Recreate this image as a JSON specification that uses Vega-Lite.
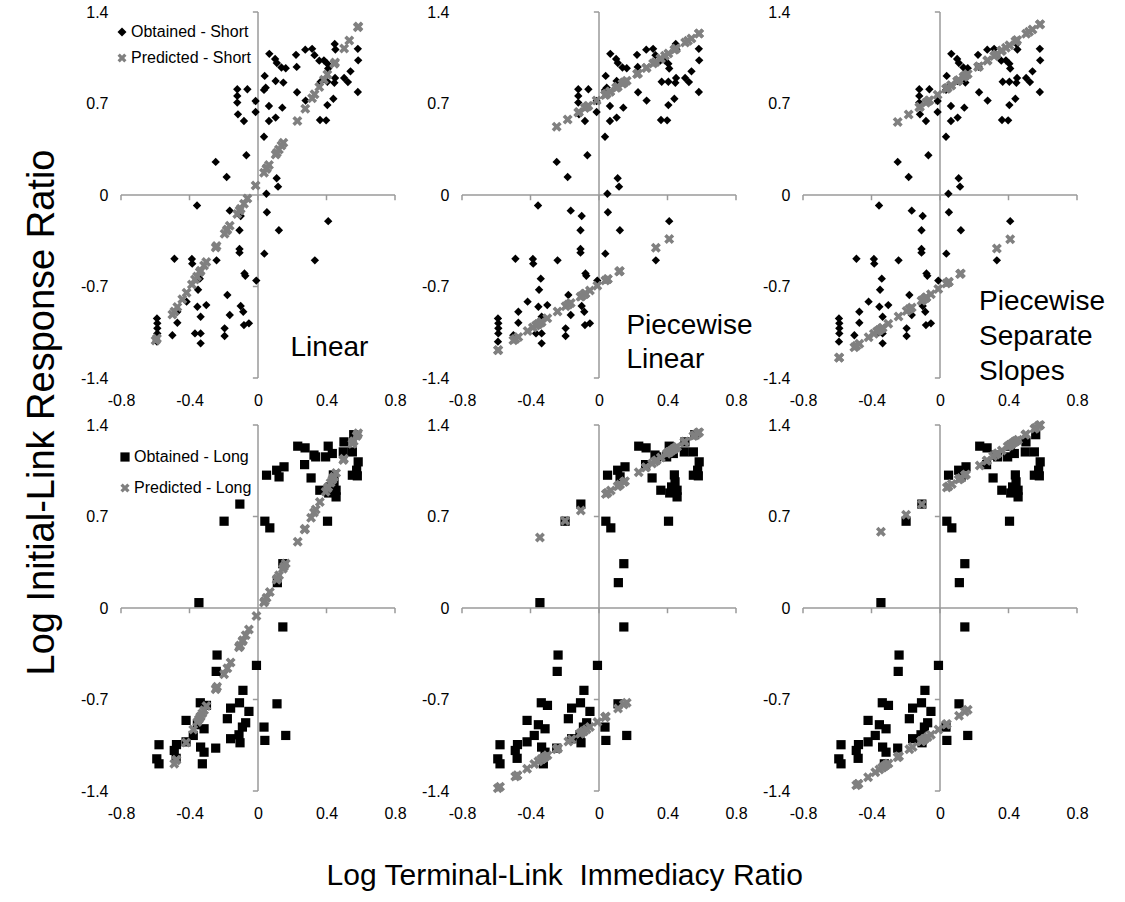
{
  "$schema": "https://vega.github.io/schema/vega-lite/v6.json",
  "background": "white",
  "padding": {"left": 24, "top": 4, "right": 5, "bottom": 5},
  "title": {"text": "Log Terminal-Link\u00a0 Immediacy Ratio", "orient": "bottom", "anchor": "middle", "fontSize": 30, "fontWeight": "normal", "font": "Liberation Sans", "color": "#000", "offset": 40},
  "config": {
    "font": "Liberation Sans",
    "view": {"stroke": null},
    "axis": {"domain": false, "ticks": false, "grid": false, "labelFontSize": 16, "labelColor": "#000", "labelFont": "Liberation Sans", "labelFlush": false, "labelOverlap": false, "labelBound": false},
    "axisX": {"labelPadding": 14},
    "axisY": {"labelPadding": 13},
    "point": {"opacity": 1}
  },
  "datasets": {
    "axes": [
      {"x": 0, "x2": 0, "y": -1.4, "y2": 1.4},
      {"x": -0.8, "x2": 0.8, "y": 0, "y2": 0},
      {"x": -0.8, "x2": -0.8, "y": 0, "y2": -0.04},
      {"x": -0.4, "x2": -0.4, "y": 0, "y2": -0.04},
      {"x": 0, "x2": 0, "y": 0, "y2": -0.04},
      {"x": 0.4, "x2": 0.4, "y": 0, "y2": -0.04},
      {"x": 0.8, "x2": 0.8, "y": 0, "y2": -0.04},
      {"x": 0, "x2": -0.03, "y": 1.4, "y2": 1.4},
      {"x": 0, "x2": -0.03, "y": 0.7, "y2": 0.7},
      {"x": 0, "x2": -0.03, "y": -0.7, "y2": -0.7},
      {"x": 0, "x2": -0.03, "y": -1.4, "y2": -1.4}
    ],
    "obtS": [
      {"x":0.066,"y":1.08},{"x":0.100,"y":1.04},{"x":0.110,"y":1.01},{"x":0.137,"y":0.975},{"x":0.162,"y":0.970},{"x":0.226,"y":0.980},{"x":0.222,"y":1.072},{"x":0.276,"y":1.112},{"x":0.316,"y":1.118},{"x":0.330,"y":1.070},{"x":0.358,"y":1.028},{"x":0.385,"y":1.030},{"x":0.405,"y":1.005},{"x":0.410,"y":0.968},{"x":0.448,"y":1.155},{"x":0.452,"y":1.113},{"x":0.583,"y":1.118},{"x":0.585,"y":1.030},{"x":0.540,"y":0.946},{"x":0.503,"y":0.895},{"x":0.525,"y":0.864},{"x":0.583,"y":0.788},{"x":0.446,"y":0.858},{"x":0.450,"y":0.895},{"x":0.366,"y":0.866},{"x":0.405,"y":0.866},{"x":0.440,"y":0.736},{"x":0.405,"y":0.688},{"x":0.362,"y":0.574},{"x":0.398,"y":0.571},{"x":0.228,"y":0.786},{"x":0.278,"y":0.722},{"x":0.142,"y":0.668},{"x":0.064,"y":0.681},{"x":0.064,"y":0.566},{"x":0.103,"y":0.592},{"x":0.039,"y":0.911},{"x":0.045,"y":0.821},{"x":0.035,"y":0.804},{"x":0.103,"y":0.872},{"x":0.148,"y":0.860},{"x":-0.014,"y":0.719},{"x":-0.014,"y":0.635},{"x":-0.062,"y":0.809},{"x":-0.121,"y":0.809},{"x":-0.121,"y":0.758},{"x":-0.121,"y":0.707},{"x":-0.117,"y":0.617},{"x":-0.082,"y":0.566},{"x":0.035,"y":0.446},{"x":-0.068,"y":0.304},{"x":-0.247,"y":0.253},{"x":-0.183,"y":0.138},{"x":0.109,"y":0.128},{"x":0.117,"y":0.064},{"x":0.049,"y":0.010},
      {"x":-0.356,"y":-0.080},{"x":-0.165,"y":-0.120},{"x":-0.101,"y":-0.161},{"x":0.052,"y":-0.132},{"x":0.122,"y":-0.270},{"x":0.410,"y":-0.200},{"x":-0.108,"y":-0.270},{"x":-0.108,"y":-0.413},{"x":-0.108,"y":-0.441},{"x":0.037,"y":-0.449},{"x":0.332,"y":-0.500},{"x":-0.242,"y":-0.500},{"x":-0.386,"y":-0.490},{"x":-0.384,"y":-0.525},{"x":-0.488,"y":-0.488},{"x":-0.079,"y":-0.600},{"x":-0.074,"y":-0.618},{"x":-0.010,"y":-0.655},{"x":-0.340,"y":-0.640},{"x":-0.350,"y":-0.725},{"x":-0.417,"y":-0.816},{"x":-0.471,"y":-0.893},{"x":-0.471,"y":-0.977},{"x":-0.354,"y":-0.855},{"x":-0.302,"y":-0.842},{"x":-0.335,"y":-0.931},{"x":-0.179,"y":-0.765},{"x":-0.165,"y":-0.918},{"x":-0.101,"y":-0.849},{"x":-0.086,"y":-0.893},{"x":-0.082,"y":-0.995},{"x":-0.053,"y":-0.982},{"x":-0.195,"y":-1.020},{"x":-0.195,"y":-1.079},{"x":-0.335,"y":-1.059},{"x":-0.335,"y":-1.135},{"x":-0.368,"y":-1.059},{"x":-0.590,"y":-0.944},{"x":-0.588,"y":-0.982},{"x":-0.588,"y":-1.020},{"x":-0.588,"y":-1.059},{"x":-0.590,"y":-1.122},{"x":-0.500,"y":-1.073}
    ],
    "p1": [
      {"x":-0.598,"y":-1.114},{"x":-0.590,"y":-1.098},{"x":-0.500,"y":-0.915},{"x":-0.488,"y":-0.891},{"x":-0.471,"y":-0.856},{"x":-0.442,"y":-0.797},{"x":-0.417,"y":-0.747},{"x":-0.386,"y":-0.684},{"x":-0.368,"y":-0.647},{"x":-0.356,"y":-0.623},{"x":-0.340,"y":-0.590},{"x":-0.335,"y":-0.580},{"x":-0.315,"y":-0.539},{"x":-0.302,"y":-0.513},{"x":-0.247,"y":-0.401},{"x":-0.242,"y":-0.391},{"x":-0.195,"y":-0.296},{"x":-0.183,"y":-0.271},{"x":-0.179,"y":-0.263},{"x":-0.165,"y":-0.235},{"x":-0.121,"y":-0.146},{"x":-0.108,"y":-0.119},{"x":-0.101,"y":-0.105},{"x":-0.082,"y":-0.066},{"x":-0.062,"y":-0.026},{"x":-0.014,"y":0.072},{"x":0.035,"y":0.171},{"x":0.049,"y":0.199},{"x":0.052,"y":0.206},{"x":0.064,"y":0.230},{"x":0.103,"y":0.309},{"x":0.110,"y":0.323},{"x":0.122,"y":0.348},{"x":0.137,"y":0.378},{"x":0.148,"y":0.400},{"x":0.230,"y":0.567},{"x":0.276,"y":0.660},{"x":0.316,"y":0.741},{"x":0.330,"y":0.770},{"x":0.358,"y":0.827},{"x":0.385,"y":0.882},{"x":0.405,"y":0.922},{"x":0.446,"y":1.005},{"x":0.450,"y":1.014},{"x":0.503,"y":1.121},{"x":0.533,"y":1.182},{"x":0.583,"y":1.283},{"x":0.586,"y":1.290}
    ],
    "p2": [
      {"x":-0.247,"y":0.523},{"x":-0.183,"y":0.578},{"x":-0.121,"y":0.631},{"x":-0.117,"y":0.635},{"x":-0.082,"y":0.665},{"x":-0.068,"y":0.677},{"x":-0.062,"y":0.682},{"x":-0.014,"y":0.723},{"x":0.035,"y":0.765},{"x":0.039,"y":0.768},{"x":0.045,"y":0.774},{"x":0.064,"y":0.790},{"x":0.066,"y":0.792},{"x":0.100,"y":0.821},{"x":0.103,"y":0.823},{"x":0.110,"y":0.829},{"x":0.137,"y":0.852},{"x":0.142,"y":0.857},{"x":0.148,"y":0.862},{"x":0.162,"y":0.874},{"x":0.222,"y":0.925},{"x":0.228,"y":0.930},{"x":0.276,"y":0.972},{"x":0.278,"y":0.973},{"x":0.316,"y":1.006},{"x":0.330,"y":1.018},{"x":0.358,"y":1.042},{"x":0.362,"y":1.045},{"x":0.385,"y":1.065},{"x":0.405,"y":1.082},{"x":0.440,"y":1.112},{"x":0.446,"y":1.117},{"x":0.450,"y":1.121},{"x":0.503,"y":1.166},{"x":0.520,"y":1.181},{"x":0.540,"y":1.198},{"x":0.583,"y":1.235},{"x":0.585,"y":1.236},
      {"x":-0.590,"y":-1.188},{"x":-0.588,"y":-1.186},{"x":-0.500,"y":-1.112},{"x":-0.488,"y":-1.101},{"x":-0.471,"y":-1.087},{"x":-0.417,"y":-1.041},{"x":-0.386,"y":-1.014},{"x":-0.368,"y":-0.999},{"x":-0.356,"y":-0.989},{"x":-0.354,"y":-0.987},{"x":-0.340,"y":-0.975},{"x":-0.335,"y":-0.971},{"x":-0.302,"y":-0.943},{"x":-0.242,"y":-0.892},{"x":-0.195,"y":-0.852},{"x":-0.179,"y":-0.838},{"x":-0.165,"y":-0.826},{"x":-0.108,"y":-0.778},{"x":-0.101,"y":-0.772},{"x":-0.086,"y":-0.759},{"x":-0.082,"y":-0.756},{"x":-0.079,"y":-0.753},{"x":-0.053,"y":-0.731},{"x":-0.010,"y":-0.695},{"x":0.037,"y":-0.655},{"x":0.049,"y":-0.644},{"x":0.052,"y":-0.642},{"x":0.117,"y":-0.586},{"x":0.122,"y":-0.582},{"x":0.332,"y":-0.403},{"x":0.410,"y":-0.337}
    ],
    "p3": [
      {"x":-0.247,"y":0.558},{"x":-0.183,"y":0.615},{"x":-0.121,"y":0.671},{"x":-0.117,"y":0.675},{"x":-0.082,"y":0.706},{"x":-0.068,"y":0.719},{"x":-0.062,"y":0.724},{"x":-0.014,"y":0.767},{"x":0.035,"y":0.812},{"x":0.039,"y":0.815},{"x":0.045,"y":0.821},{"x":0.064,"y":0.838},{"x":0.066,"y":0.839},{"x":0.100,"y":0.870},{"x":0.103,"y":0.873},{"x":0.110,"y":0.879},{"x":0.137,"y":0.903},{"x":0.142,"y":0.908},{"x":0.148,"y":0.913},{"x":0.162,"y":0.926},{"x":0.222,"y":0.980},{"x":0.228,"y":0.985},{"x":0.276,"y":1.028},{"x":0.278,"y":1.030},{"x":0.316,"y":1.064},{"x":0.330,"y":1.077},{"x":0.358,"y":1.102},{"x":0.362,"y":1.106},{"x":0.385,"y":1.127},{"x":0.405,"y":1.145},{"x":0.440,"y":1.176},{"x":0.446,"y":1.181},{"x":0.450,"y":1.185},{"x":0.503,"y":1.233},{"x":0.520,"y":1.248},{"x":0.540,"y":1.266},{"x":0.583,"y":1.305},{"x":0.585,"y":1.307},
      {"x":-0.590,"y":-1.246},{"x":-0.588,"y":-1.244},{"x":-0.500,"y":-1.165},{"x":-0.488,"y":-1.154},{"x":-0.471,"y":-1.138},{"x":-0.417,"y":-1.089},{"x":-0.386,"y":-1.061},{"x":-0.368,"y":-1.045},{"x":-0.356,"y":-1.034},{"x":-0.354,"y":-1.032},{"x":-0.340,"y":-1.019},{"x":-0.335,"y":-1.015},{"x":-0.302,"y":-0.985},{"x":-0.242,"y":-0.930},{"x":-0.195,"y":-0.888},{"x":-0.179,"y":-0.873},{"x":-0.165,"y":-0.861},{"x":-0.108,"y":-0.809},{"x":-0.101,"y":-0.803},{"x":-0.086,"y":-0.789},{"x":-0.082,"y":-0.785},{"x":-0.079,"y":-0.783},{"x":-0.053,"y":-0.759},{"x":-0.010,"y":-0.720},{"x":0.037,"y":-0.677},{"x":0.049,"y":-0.667},{"x":0.052,"y":-0.664},{"x":0.117,"y":-0.605},{"x":0.122,"y":-0.600},{"x":0.332,"y":-0.410},{"x":0.410,"y":-0.339}
    ],
    "obtL": [
      {"x":0.232,"y":1.238},{"x":0.275,"y":1.225},{"x":0.327,"y":1.170},{"x":0.337,"y":1.156},{"x":0.272,"y":1.097},{"x":0.310,"y":0.995},{"x":0.410,"y":1.238},{"x":0.395,"y":1.156},{"x":0.434,"y":1.182},{"x":0.502,"y":1.271},{"x":0.498,"y":1.194},{"x":0.551,"y":1.194},{"x":0.559,"y":1.326},{"x":0.585,"y":1.118},{"x":0.576,"y":1.054},{"x":0.551,"y":1.016},{"x":0.580,"y":1.011},{"x":0.440,"y":1.018},{"x":0.444,"y":0.965},{"x":0.456,"y":0.901},{"x":0.456,"y":0.850},{"x":0.413,"y":0.880},{"x":0.424,"y":0.926},{"x":0.361,"y":0.901},{"x":0.406,"y":0.664},{"x":0.050,"y":1.016},{"x":0.109,"y":1.054},{"x":0.123,"y":1.003},{"x":0.152,"y":1.080},{"x":-0.106,"y":0.795},{"x":-0.198,"y":0.664},{"x":0.040,"y":0.664},{"x":0.069,"y":0.613},{"x":0.145,"y":0.339},{"x":0.113,"y":0.194},{"x":-0.345,"y":0.041},
      {"x":0.145,"y":-0.145},{"x":-0.009,"y":-0.439},{"x":-0.239,"y":-0.360},{"x":-0.244,"y":-0.485},{"x":-0.088,"y":-0.630},{"x":-0.337,"y":-0.725},{"x":-0.301,"y":-0.745},{"x":-0.160,"y":-0.766},{"x":-0.108,"y":-0.725},{"x":-0.053,"y":-0.791},{"x":-0.420,"y":-0.860},{"x":-0.354,"y":-0.893},{"x":-0.315,"y":-0.924},{"x":-0.179,"y":-0.847},{"x":-0.072,"y":-0.878},{"x":-0.091,"y":-0.911},{"x":-0.378,"y":-0.975},{"x":-0.420,"y":-1.024},{"x":0.035,"y":-0.911},{"x":0.040,"y":-1.013},{"x":0.162,"y":-0.975},{"x":0.111,"y":-0.733},{"x":-0.160,"y":-1.000},{"x":-0.105,"y":-1.031},{"x":-0.111,"y":-0.970},{"x":-0.247,"y":-1.072},{"x":-0.335,"y":-1.064},{"x":-0.315,"y":-1.103},{"x":-0.325,"y":-1.192},{"x":-0.476,"y":-1.045},{"x":-0.489,"y":-1.090},{"x":-0.478,"y":-1.150},{"x":-0.578,"y":-1.046},{"x":-0.591,"y":-1.154},{"x":-0.578,"y":-1.192}
    ],
    "p4": [
      {"x":-0.489,"y":-1.191},{"x":-0.478,"y":-1.165},{"x":-0.476,"y":-1.161},{"x":-0.420,"y":-1.029},{"x":-0.378,"y":-0.930},{"x":-0.354,"y":-0.873},{"x":-0.345,"y":-0.852},{"x":-0.337,"y":-0.833},{"x":-0.335,"y":-0.829},{"x":-0.325,"y":-0.805},{"x":-0.315,"y":-0.782},{"x":-0.301,"y":-0.749},{"x":-0.247,"y":-0.621},{"x":-0.244,"y":-0.614},{"x":-0.239,"y":-0.603},{"x":-0.198,"y":-0.506},{"x":-0.179,"y":-0.461},{"x":-0.160,"y":-0.417},{"x":-0.111,"y":-0.301},{"x":-0.108,"y":-0.294},{"x":-0.106,"y":-0.290},{"x":-0.105,"y":-0.287},{"x":-0.091,"y":-0.254},{"x":-0.088,"y":-0.247},{"x":-0.072,"y":-0.209},{"x":-0.053,"y":-0.165},{"x":-0.009,"y":-0.061},{"x":0.035,"y":0.042},{"x":0.040,"y":0.054},{"x":0.050,"y":0.078},{"x":0.069,"y":0.122},{"x":0.109,"y":0.217},{"x":0.111,"y":0.221},{"x":0.113,"y":0.226},{"x":0.123,"y":0.250},{"x":0.145,"y":0.301},{"x":0.152,"y":0.318},{"x":0.162,"y":0.341},{"x":0.232,"y":0.506},{"x":0.272,"y":0.600},{"x":0.275,"y":0.607},{"x":0.310,"y":0.690},{"x":0.327,"y":0.730},{"x":0.337,"y":0.753},{"x":0.361,"y":0.810},{"x":0.395,"y":0.890},{"x":0.406,"y":0.916},{"x":0.410,"y":0.925},{"x":0.424,"y":0.958},{"x":0.434,"y":0.982},{"x":0.440,"y":0.996},{"x":0.444,"y":1.005},{"x":0.456,"y":1.033},{"x":0.498,"y":1.132},{"x":0.502,"y":1.142},{"x":0.551,"y":1.257},{"x":0.559,"y":1.276},{"x":0.576,"y":1.316},{"x":0.580,"y":1.325},{"x":0.585,"y":1.337}
    ],
    "p5": [
      {"x":-0.345,"y":0.539},{"x":-0.198,"y":0.667},{"x":-0.106,"y":0.746},{"x":0.040,"y":0.873},{"x":0.050,"y":0.881},{"x":0.069,"y":0.898},{"x":0.109,"y":0.932},{"x":0.113,"y":0.936},{"x":0.123,"y":0.945},{"x":0.145,"y":0.964},{"x":0.152,"y":0.970},{"x":0.232,"y":1.039},{"x":0.272,"y":1.074},{"x":0.275,"y":1.076},{"x":0.310,"y":1.106},{"x":0.327,"y":1.121},{"x":0.337,"y":1.130},{"x":0.361,"y":1.151},{"x":0.395,"y":1.180},{"x":0.406,"y":1.190},{"x":0.410,"y":1.193},{"x":0.413,"y":1.196},{"x":0.424,"y":1.205},{"x":0.434,"y":1.214},{"x":0.440,"y":1.219},{"x":0.444,"y":1.223},{"x":0.456,"y":1.233},{"x":0.498,"y":1.269},{"x":0.502,"y":1.273},{"x":0.551,"y":1.315},{"x":0.559,"y":1.322},{"x":0.576,"y":1.337},{"x":0.580,"y":1.340},{"x":0.585,"y":1.345},
      {"x":-0.591,"y":-1.379},{"x":-0.578,"y":-1.368},{"x":-0.489,"y":-1.290},{"x":-0.478,"y":-1.281},{"x":-0.476,"y":-1.279},{"x":-0.420,"y":-1.230},{"x":-0.378,"y":-1.194},{"x":-0.354,"y":-1.173},{"x":-0.337,"y":-1.158},{"x":-0.335,"y":-1.156},{"x":-0.325,"y":-1.148},{"x":-0.315,"y":-1.139},{"x":-0.301,"y":-1.127},{"x":-0.247,"y":-1.080},{"x":-0.244,"y":-1.077},{"x":-0.239,"y":-1.073},{"x":-0.179,"y":-1.021},{"x":-0.160,"y":-1.004},{"x":-0.111,"y":-0.962},{"x":-0.108,"y":-0.959},{"x":-0.105,"y":-0.956},{"x":-0.091,"y":-0.944},{"x":-0.088,"y":-0.942},{"x":-0.072,"y":-0.928},{"x":-0.053,"y":-0.911},{"x":-0.009,"y":-0.873},{"x":0.035,"y":-0.835},{"x":0.040,"y":-0.830},{"x":0.111,"y":-0.768},{"x":0.145,"y":-0.739},{"x":0.162,"y":-0.724}
    ],
    "p6": [
      {"x":-0.345,"y":0.583},{"x":-0.198,"y":0.713},{"x":-0.106,"y":0.794},{"x":0.040,"y":0.922},{"x":0.050,"y":0.931},{"x":0.069,"y":0.948},{"x":0.109,"y":0.983},{"x":0.113,"y":0.986},{"x":0.123,"y":0.995},{"x":0.145,"y":1.015},{"x":0.152,"y":1.021},{"x":0.232,"y":1.091},{"x":0.272,"y":1.126},{"x":0.275,"y":1.129},{"x":0.310,"y":1.160},{"x":0.327,"y":1.175},{"x":0.337,"y":1.184},{"x":0.361,"y":1.205},{"x":0.395,"y":1.235},{"x":0.406,"y":1.244},{"x":0.410,"y":1.248},{"x":0.413,"y":1.250},{"x":0.424,"y":1.260},{"x":0.434,"y":1.269},{"x":0.440,"y":1.274},{"x":0.444,"y":1.278},{"x":0.456,"y":1.288},{"x":0.498,"y":1.325},{"x":0.502,"y":1.329},{"x":0.551,"y":1.372},{"x":0.559,"y":1.379},{"x":0.576,"y":1.394},{"x":0.580,"y":1.397},{"x":0.585,"y":1.400},
      {"x":-0.489,"y":-1.356},{"x":-0.478,"y":-1.346},{"x":-0.476,"y":-1.344},{"x":-0.420,"y":-1.295},{"x":-0.378,"y":-1.257},{"x":-0.354,"y":-1.236},{"x":-0.337,"y":-1.221},{"x":-0.335,"y":-1.219},{"x":-0.325,"y":-1.210},{"x":-0.315,"y":-1.201},{"x":-0.301,"y":-1.189},{"x":-0.247,"y":-1.141},{"x":-0.244,"y":-1.138},{"x":-0.239,"y":-1.134},{"x":-0.179,"y":-1.081},{"x":-0.160,"y":-1.064},{"x":-0.111,"y":-1.020},{"x":-0.108,"y":-1.018},{"x":-0.105,"y":-1.015},{"x":-0.091,"y":-1.003},{"x":-0.088,"y":-1.000},{"x":-0.072,"y":-0.986},{"x":-0.053,"y":-0.969},{"x":-0.009,"y":-0.930},{"x":0.035,"y":-0.891},{"x":0.040,"y":-0.887},{"x":0.111,"y":-0.824},{"x":0.145,"y":-0.793},{"x":0.162,"y":-0.778}
    ]
  },
  "resolve": {"scale": {"color": "independent", "shape": "independent"}, "legend": {"color": "independent", "shape": "independent"}},
  "vconcat": [
    {
      "title": {"text": "Log Initial-Link Response Ratio", "orient": "left", "anchor": "middle", "fontSize": 38, "fontWeight": "normal", "font": "Liberation Sans", "color": "#000", "offset": 18},
      "columns": 3,
      "spacing": {"row": 47, "column": 67},
      "bounds": "flush",
      "resolve": {"scale": {"color": "independent", "shape": "independent"}, "legend": {"color": "independent", "shape": "independent"}},
      "concat": [
        {
          "width": 274, "height": 366,
          "layer": [
            {"data": {"name": "axes"}, "mark": {"type": "rule", "color": "#9a9a9a", "strokeWidth": 1.5},
             "encoding": {
               "x": {"field": "x", "type": "quantitative", "title": null, "scale": {"domain": [-0.8, 0.8], "nice": false, "zero": false}, "axis": {"values": [-0.8, -0.4, 0, 0.4, 0.8], "labelExpr": "datum.value < 0 ? '-' + format(-datum.value, '.1~f') : format(datum.value, '.1~f')"}},
               "x2": {"field": "x2"},
               "y": {"field": "y", "type": "quantitative", "title": null, "scale": {"domain": [-1.4, 1.4], "nice": false, "zero": false}, "axis": {"values": [-1.4, -0.7, 0, 0.7, 1.4], "labelExpr": "datum.value < 0 ? '-' + format(-datum.value, '.1~f') : format(datum.value, '.1~f')"}},
               "y2": {"field": "y2"}}},
            {"data": {"name": "obtS"}, "mark": {"type": "point", "filled": true, "size": 70},
             "encoding": {
               "x": {"field": "x", "type": "quantitative", "title": null},
               "y": {"field": "y", "type": "quantitative", "title": null},
               "color": {"datum": "Obtained - Short", "scale": {"domain": ["Obtained - Short", "Predicted - Short"], "range": ["#000000", "#808080"]}, "legend": {"orient": "none", "legendX": -7, "legendY": 12, "title": null, "labelFontSize": 16, "labelFont": "Liberation Sans", "labelColor": "#000", "symbolSize": 80, "rowPadding": 10, "padding": 0, "labelOffset": 1, "symbolStrokeWidth": 0}},
               "shape": {"datum": "Obtained - Short", "scale": {"domain": ["Obtained - Short", "Predicted - Short"], "range": ["diamond", "M-1,-0.5L-0.5,-1L0,-0.5L0.5,-1L1,-0.5L0.5,0L1,0.5L0.5,1L0,0.5L-0.5,1L-1,0.5L-0.5,0Z"]}, "legend": {"orient": "none", "legendX": -7, "legendY": 12, "title": null, "labelFontSize": 16, "labelFont": "Liberation Sans", "labelColor": "#000", "symbolSize": 80, "rowPadding": 10, "padding": 0, "labelOffset": 1, "symbolStrokeWidth": 0}}}},
            {"data": {"name": "p1"}, "mark": {"type": "point", "filled": true, "size": 100},
             "encoding": {
               "x": {"field": "x", "type": "quantitative", "title": null},
               "y": {"field": "y", "type": "quantitative", "title": null},
               "color": {"datum": "Predicted - Short"},
               "shape": {"datum": "Predicted - Short"}}},
            {"data": {"values": [{"x": 0.19, "y": -1.17, "t": "Linear"}]}, "mark": {"type": "text", "fontSize": 28, "align": "left", "baseline": "middle", "color": "#000"},
             "encoding": {"x": {"field": "x", "type": "quantitative", "title": null}, "y": {"field": "y", "type": "quantitative", "title": null}, "text": {"field": "t"}}}
          ]
        },
        {
          "width": 274, "height": 366,
          "layer": [
            {"data": {"name": "axes"}, "mark": {"type": "rule", "color": "#9a9a9a", "strokeWidth": 1.5},
             "encoding": {
               "x": {"field": "x", "type": "quantitative", "title": null, "scale": {"domain": [-0.8, 0.8], "nice": false, "zero": false}, "axis": {"values": [-0.8, -0.4, 0, 0.4, 0.8], "labelExpr": "datum.value < 0 ? '-' + format(-datum.value, '.1~f') : format(datum.value, '.1~f')"}},
               "x2": {"field": "x2"},
               "y": {"field": "y", "type": "quantitative", "title": null, "scale": {"domain": [-1.4, 1.4], "nice": false, "zero": false}, "axis": {"values": [-1.4, -0.7, 0, 0.7, 1.4], "labelExpr": "datum.value < 0 ? '-' + format(-datum.value, '.1~f') : format(datum.value, '.1~f')"}},
               "y2": {"field": "y2"}}},
            {"data": {"name": "obtS"}, "mark": {"type": "point", "filled": true, "size": 70},
             "encoding": {
               "x": {"field": "x", "type": "quantitative", "title": null},
               "y": {"field": "y", "type": "quantitative", "title": null},
               "color": {"datum": "Obtained - Short", "scale": {"domain": ["Obtained - Short", "Predicted - Short"], "range": ["#000000", "#808080"]}, "legend": null},
               "shape": {"datum": "Obtained - Short", "scale": {"domain": ["Obtained - Short", "Predicted - Short"], "range": ["diamond", "M-1,-0.5L-0.5,-1L0,-0.5L0.5,-1L1,-0.5L0.5,0L1,0.5L0.5,1L0,0.5L-0.5,1L-1,0.5L-0.5,0Z"]}, "legend": null}}},
            {"data": {"name": "p2"}, "mark": {"type": "point", "filled": true, "size": 100},
             "encoding": {
               "x": {"field": "x", "type": "quantitative", "title": null},
               "y": {"field": "y", "type": "quantitative", "title": null},
               "color": {"datum": "Predicted - Short", "legend": null},
               "shape": {"datum": "Predicted - Short", "legend": null}}},
            {"data": {"values": [{"x": 0.16, "y": -1.0, "t": "Piecewise\nLinear"}]}, "mark": {"type": "text", "fontSize": 28, "align": "left", "baseline": "middle", "color": "#000", "lineBreak": "\n", "lineHeight": 34},
             "encoding": {"x": {"field": "x", "type": "quantitative", "title": null}, "y": {"field": "y", "type": "quantitative", "title": null}, "text": {"field": "t"}}}
          ]
        },
        {
          "width": 274, "height": 366,
          "layer": [
            {"data": {"name": "axes"}, "mark": {"type": "rule", "color": "#9a9a9a", "strokeWidth": 1.5},
             "encoding": {
               "x": {"field": "x", "type": "quantitative", "title": null, "scale": {"domain": [-0.8, 0.8], "nice": false, "zero": false}, "axis": {"values": [-0.8, -0.4, 0, 0.4, 0.8], "labelExpr": "datum.value < 0 ? '-' + format(-datum.value, '.1~f') : format(datum.value, '.1~f')"}},
               "x2": {"field": "x2"},
               "y": {"field": "y", "type": "quantitative", "title": null, "scale": {"domain": [-1.4, 1.4], "nice": false, "zero": false}, "axis": {"values": [-1.4, -0.7, 0, 0.7, 1.4], "labelExpr": "datum.value < 0 ? '-' + format(-datum.value, '.1~f') : format(datum.value, '.1~f')"}},
               "y2": {"field": "y2"}}},
            {"data": {"name": "obtS"}, "mark": {"type": "point", "filled": true, "size": 70},
             "encoding": {
               "x": {"field": "x", "type": "quantitative", "title": null},
               "y": {"field": "y", "type": "quantitative", "title": null},
               "color": {"datum": "Obtained - Short", "scale": {"domain": ["Obtained - Short", "Predicted - Short"], "range": ["#000000", "#808080"]}, "legend": null},
               "shape": {"datum": "Obtained - Short", "scale": {"domain": ["Obtained - Short", "Predicted - Short"], "range": ["diamond", "M-1,-0.5L-0.5,-1L0,-0.5L0.5,-1L1,-0.5L0.5,0L1,0.5L0.5,1L0,0.5L-0.5,1L-1,0.5L-0.5,0Z"]}, "legend": null}}},
            {"data": {"name": "p3"}, "mark": {"type": "point", "filled": true, "size": 100},
             "encoding": {
               "x": {"field": "x", "type": "quantitative", "title": null},
               "y": {"field": "y", "type": "quantitative", "title": null},
               "color": {"datum": "Predicted - Short", "legend": null},
               "shape": {"datum": "Predicted - Short", "legend": null}}},
            {"data": {"values": [{"x": 0.228, "y": -0.82, "t": "Piecewise\nSeparate\nSlopes"}]}, "mark": {"type": "text", "fontSize": 28, "align": "left", "baseline": "middle", "color": "#000", "lineBreak": "\n", "lineHeight": 35},
             "encoding": {"x": {"field": "x", "type": "quantitative", "title": null}, "y": {"field": "y", "type": "quantitative", "title": null}, "text": {"field": "t"}}}
          ]
        },
        {
          "width": 274, "height": 366,
          "layer": [
            {"data": {"name": "axes"}, "mark": {"type": "rule", "color": "#9a9a9a", "strokeWidth": 1.5},
             "encoding": {
               "x": {"field": "x", "type": "quantitative", "title": null, "scale": {"domain": [-0.8, 0.8], "nice": false, "zero": false}, "axis": {"values": [-0.8, -0.4, 0, 0.4, 0.8], "labelExpr": "datum.value < 0 ? '-' + format(-datum.value, '.1~f') : format(datum.value, '.1~f')"}},
               "x2": {"field": "x2"},
               "y": {"field": "y", "type": "quantitative", "title": null, "scale": {"domain": [-1.4, 1.4], "nice": false, "zero": false}, "axis": {"values": [-1.4, -0.7, 0, 0.7, 1.4], "labelExpr": "datum.value < 0 ? '-' + format(-datum.value, '.1~f') : format(datum.value, '.1~f')"}},
               "y2": {"field": "y2"}}},
            {"data": {"name": "obtL"}, "mark": {"type": "point", "filled": true, "size": 85},
             "encoding": {
               "x": {"field": "x", "type": "quantitative", "title": null},
               "y": {"field": "y", "type": "quantitative", "title": null},
               "color": {"datum": "Obtained - Long", "scale": {"domain": ["Obtained - Long", "Predicted - Long"], "range": ["#000000", "#808080"]}, "legend": {"orient": "none", "legendX": -4, "legendY": 24, "title": null, "labelFontSize": 16, "labelFont": "Liberation Sans", "labelColor": "#000", "symbolSize": 85, "rowPadding": 15, "padding": 0, "labelOffset": 1, "symbolStrokeWidth": 0}},
               "shape": {"datum": "Obtained - Long", "scale": {"domain": ["Obtained - Long", "Predicted - Long"], "range": ["square", "M-1,-0.5L-0.5,-1L0,-0.5L0.5,-1L1,-0.5L0.5,0L1,0.5L0.5,1L0,0.5L-0.5,1L-1,0.5L-0.5,0Z"]}, "legend": {"orient": "none", "legendX": -4, "legendY": 24, "title": null, "labelFontSize": 16, "labelFont": "Liberation Sans", "labelColor": "#000", "symbolSize": 85, "rowPadding": 15, "padding": 0, "labelOffset": 1, "symbolStrokeWidth": 0}}}},
            {"data": {"name": "p4"}, "mark": {"type": "point", "filled": true, "size": 100},
             "encoding": {
               "x": {"field": "x", "type": "quantitative", "title": null},
               "y": {"field": "y", "type": "quantitative", "title": null},
               "color": {"datum": "Predicted - Long"},
               "shape": {"datum": "Predicted - Long"}}}
          ]
        },
        {
          "width": 274, "height": 366,
          "layer": [
            {"data": {"name": "axes"}, "mark": {"type": "rule", "color": "#9a9a9a", "strokeWidth": 1.5},
             "encoding": {
               "x": {"field": "x", "type": "quantitative", "title": null, "scale": {"domain": [-0.8, 0.8], "nice": false, "zero": false}, "axis": {"values": [-0.8, -0.4, 0, 0.4, 0.8], "labelExpr": "datum.value < 0 ? '-' + format(-datum.value, '.1~f') : format(datum.value, '.1~f')"}},
               "x2": {"field": "x2"},
               "y": {"field": "y", "type": "quantitative", "title": null, "scale": {"domain": [-1.4, 1.4], "nice": false, "zero": false}, "axis": {"values": [-1.4, -0.7, 0, 0.7, 1.4], "labelExpr": "datum.value < 0 ? '-' + format(-datum.value, '.1~f') : format(datum.value, '.1~f')"}},
               "y2": {"field": "y2"}}},
            {"data": {"name": "obtL"}, "mark": {"type": "point", "filled": true, "size": 85},
             "encoding": {
               "x": {"field": "x", "type": "quantitative", "title": null},
               "y": {"field": "y", "type": "quantitative", "title": null},
               "color": {"datum": "Obtained - Long", "scale": {"domain": ["Obtained - Long", "Predicted - Long"], "range": ["#000000", "#808080"]}, "legend": null},
               "shape": {"datum": "Obtained - Long", "scale": {"domain": ["Obtained - Long", "Predicted - Long"], "range": ["square", "M-1,-0.5L-0.5,-1L0,-0.5L0.5,-1L1,-0.5L0.5,0L1,0.5L0.5,1L0,0.5L-0.5,1L-1,0.5L-0.5,0Z"]}, "legend": null}}},
            {"data": {"name": "p5"}, "mark": {"type": "point", "filled": true, "size": 100},
             "encoding": {
               "x": {"field": "x", "type": "quantitative", "title": null},
               "y": {"field": "y", "type": "quantitative", "title": null},
               "color": {"datum": "Predicted - Long", "legend": null},
               "shape": {"datum": "Predicted - Long", "legend": null}}}
          ]
        },
        {
          "width": 274, "height": 366,
          "layer": [
            {"data": {"name": "axes"}, "mark": {"type": "rule", "color": "#9a9a9a", "strokeWidth": 1.5},
             "encoding": {
               "x": {"field": "x", "type": "quantitative", "title": null, "scale": {"domain": [-0.8, 0.8], "nice": false, "zero": false}, "axis": {"values": [-0.8, -0.4, 0, 0.4, 0.8], "labelExpr": "datum.value < 0 ? '-' + format(-datum.value, '.1~f') : format(datum.value, '.1~f')"}},
               "x2": {"field": "x2"},
               "y": {"field": "y", "type": "quantitative", "title": null, "scale": {"domain": [-1.4, 1.4], "nice": false, "zero": false}, "axis": {"values": [-1.4, -0.7, 0, 0.7, 1.4], "labelExpr": "datum.value < 0 ? '-' + format(-datum.value, '.1~f') : format(datum.value, '.1~f')"}},
               "y2": {"field": "y2"}}},
            {"data": {"name": "obtL"}, "mark": {"type": "point", "filled": true, "size": 85},
             "encoding": {
               "x": {"field": "x", "type": "quantitative", "title": null},
               "y": {"field": "y", "type": "quantitative", "title": null},
               "color": {"datum": "Obtained - Long", "scale": {"domain": ["Obtained - Long", "Predicted - Long"], "range": ["#000000", "#808080"]}, "legend": null},
               "shape": {"datum": "Obtained - Long", "scale": {"domain": ["Obtained - Long", "Predicted - Long"], "range": ["square", "M-1,-0.5L-0.5,-1L0,-0.5L0.5,-1L1,-0.5L0.5,0L1,0.5L0.5,1L0,0.5L-0.5,1L-1,0.5L-0.5,0Z"]}, "legend": null}}},
            {"data": {"name": "p6"}, "mark": {"type": "point", "filled": true, "size": 100},
             "encoding": {
               "x": {"field": "x", "type": "quantitative", "title": null},
               "y": {"field": "y", "type": "quantitative", "title": null},
               "color": {"datum": "Predicted - Long", "legend": null},
               "shape": {"datum": "Predicted - Long", "legend": null}}}
          ]
        }
      ]
    }
  ]
}
